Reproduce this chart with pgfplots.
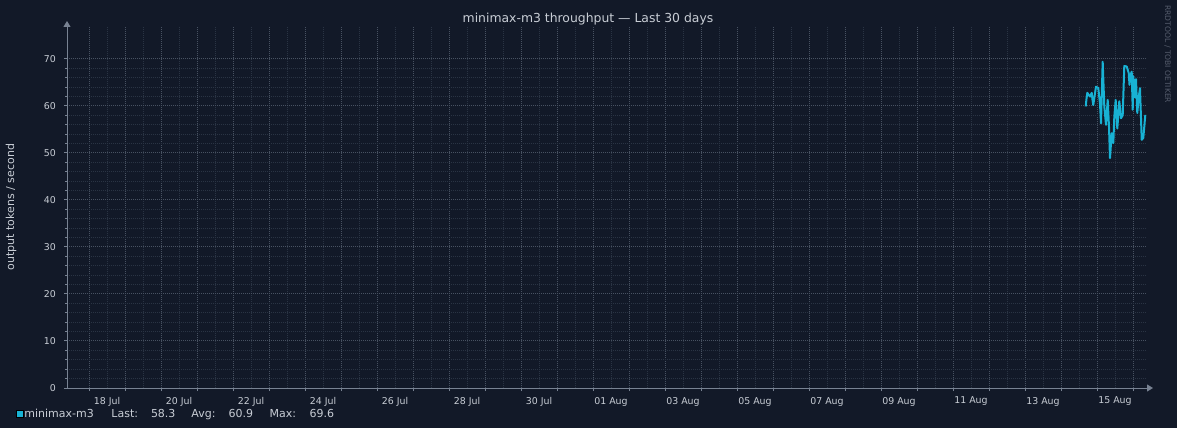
\documentclass[border=0pt]{standalone}
\usepackage{pgfplots}
\pgfplotsset{compat=1.18}
\usepackage{fontspec}
\setmainfont{DejaVu Sans}
\usetikzlibrary{arrows.meta}

\definecolor{bg}{RGB}{18,25,40}
\definecolor{axisc}{RGB}{120,130,146}
\definecolor{majgrid}{RGB}{72,82,98}
\definecolor{mingrid}{RGB}{42,52,68}
\definecolor{txt}{RGB}{200,205,213}
\definecolor{wm}{RGB}{85,92,108}
\definecolor{series}{RGB}{24,178,212}

% one reference pixel = 0.5pt
\begin{document}
\begin{tikzpicture}
  \path[use as bounding box, fill=bg] (0,0) rectangle (588.5pt,214pt);

  \begin{axis}[
      scale only axis,
      width=540pt, height=180.5pt,
      at={(33.5pt,20pt)}, anchor=south west,
      xmin=-0.6111, xmax=29.3889,
      ymin=0, ymax=76.8,
      axis lines=left,
      axis line style={axisc, line width=0.5pt},
      x axis line style={-{Triangle[width=3.5pt,length=3pt]}, shorten >=-3pt},
      y axis line style={-{Triangle[width=3.5pt,length=3pt]}, shorten >=-3pt},
      xtick={0,1,...,29},
      xticklabels={},
      minor x tick num=1,
      ytick={0,10,...,70},
      minor y tick num=4,
      tick align=outside,
      major tick length=1.5pt,
      minor tick length=1pt,
      xtick pos=bottom, ytick pos=left,
      tick style={axisc, line width=0.5pt},
      minor x tick style={draw=none},
      grid=both,
      major grid style={majgrid, line width=0.5pt, dash pattern=on 0.5pt off 0.5pt},
      minor grid style={mingrid, line width=0.5pt, dash pattern=on 0.5pt off 0.5pt},
      extra x ticks={0.5,2.5,4.5,6.5,8.5,10.5,12.5,14.5,16.5,18.5,20.5,22.5,24.5,26.5,28.5},
      extra x tick labels={18 Jul,20 Jul,22 Jul,24 Jul,26 Jul,28 Jul,30 Jul,01 Aug,03 Aug,05 Aug,07 Aug,09 Aug,11 Aug,13 Aug,15 Aug},
      extra x tick style={grid=none, major tick length=0pt, tick style={draw=none}},
      ticklabel style={font=\fontsize{4.7pt}{5pt}\selectfont, text=txt},
      xticklabel style={yshift=-1pt},
      yticklabel style={xshift=-0.5pt},
      /pgf/number format/assume math mode=true,
    ]
    \addplot[series, line width=1pt, line join=round] coordinates {
      (27.686,59.9) (27.708,61.5) (27.731,62.8) (27.764,62.4) (27.806,62.0)
      (27.853,62.8) (27.875,61.3) (27.897,60.2) (27.931,62.0) (27.972,64.1)
      (28.036,63.8) (28.083,60.5) (28.111,56.3) (28.158,69.4) (28.203,59.9)
      (28.250,56.0) (28.297,61.3) (28.333,55.6) (28.361,48.9) (28.408,54.2)
      (28.453,52.1) (28.481,57.7) (28.519,61.3) (28.564,55.2) (28.619,61.0)
      (28.667,57.4) (28.714,58.0) (28.758,68.5) (28.825,68.4) (28.881,67.0)
      (28.903,64.5) (28.931,66.6) (28.964,67.3) (28.992,59.2) (29.008,66.3)
      (29.056,61.8) (29.083,65.7) (29.119,58.5) (29.158,61.8) (29.194,63.8)
      (29.242,52.8) (29.286,53.2) (29.342,58.1)
    };
  \end{axis}

  % title, axis label, watermark
  \node[text=txt, font=\fontsize{6.2pt}{7pt}\selectfont] at (294pt,204.5pt)
    {minimax-m3 throughput — Last 30 days};
  \node[text=txt, rotate=90, font=\fontsize{5.5pt}{6pt}\selectfont] at (5.5pt,110.5pt)
    {output tokens / second};
  \node[text=wm, rotate=-90, font=\fontsize{3.8pt}{4pt}\selectfont, anchor=west, inner sep=0pt] at (583.8pt,211.5pt)
    {RRDTOOL / TOBI OETIKER};

  % legend
  \fill[series, draw=black, line width=0.5pt] (8pt,5.2pt) rectangle (11.6pt,8.8pt);
  \begin{scope}[every node/.style={text=txt, anchor=base west, inner sep=0pt, font=\fontsize{5.5pt}{6pt}\selectfont}]
    \node at (12pt,5.2pt) {minimax-m3};
    \node at (55.5pt,5.2pt) {Last:};
    \node at (75.3pt,5.2pt) {58.3};
    \node at (95.5pt,5.2pt) {Avg:};
    \node at (114.1pt,5.2pt) {60.9};
    \node at (134.6pt,5.2pt) {Max:};
    \node at (154.6pt,5.2pt) {69.6};
  \end{scope}
\end{tikzpicture}
\end{document}
